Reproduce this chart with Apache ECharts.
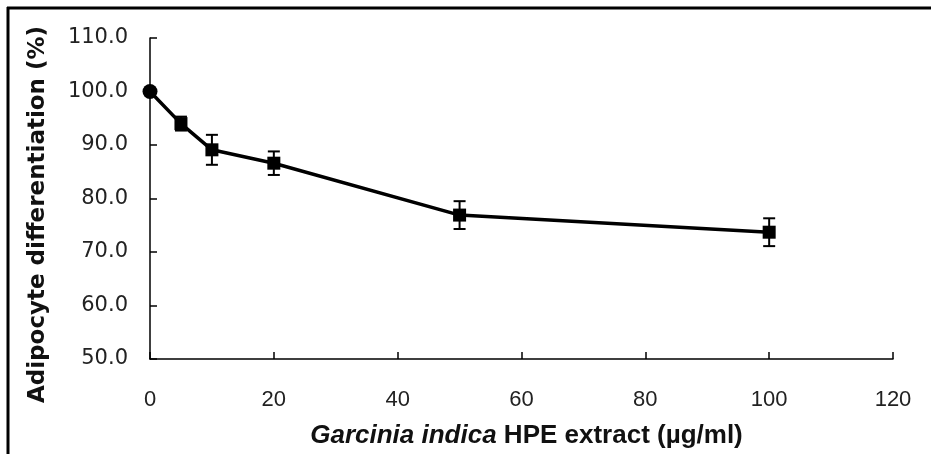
<!DOCTYPE html>
<html>
<head>
<meta charset="utf-8">
<script src="https://cdn.jsdelivr.net/npm/echarts@6/dist/echarts.min.js"></script>
<style>
  html, body { margin: 0; padding: 0; background: #fff; }
  #chart { width: 931px; height: 454px; }
</style>
</head>
<body>
<div id="chart"></div>
<script>
  // concentrations (ug/ml)
  const doses = [0, 5, 10, 20, 50, 100]
  // adipocyte differentiation (%)
  const means = [100.0, 94.0, 89.1, 86.6, 76.9, 73.7]
  // standard error
  const errors = [0, 1.3, 2.8, 2.2, 2.6, 2.6]
  const symbols = ['circle', 'rect', 'rect', 'rect', 'rect', 'rect']

  const lineData = doses.map((d, i) => ({
    value: [d, means[i]],
    symbol: symbols[i],
    symbolSize: symbols[i] === 'circle' ? 15 : 13
  }))
  const errData = doses.map((d, i) => [d, means[i] - errors[i], means[i] + errors[i]])

  const chart = echarts.init(document.getElementById('chart'))
  chart.setOption({
    animation: false,
    grid: {left: 150, right: 38, top: 38, bottom: 93},
    graphic: [
      {type: 'line', shape: {x1: 7, y1: 8, x2: 931, y2: 8}, style: {stroke: '#000', lineWidth: 3}},
      {type: 'line', shape: {x1: 8, y1: 7, x2: 8, y2: 454}, style: {stroke: '#000', lineWidth: 3}}
    ],
    xAxis: {
      type: 'value',
      min: 0,
      max: 120,
      interval: 20,
      name: '{it|Garcinia indica} HPE extract (µg/ml)',
      nameLocation: 'middle',
      nameGap: 64,
      nameTextStyle: {
        fontFamily: 'Liberation Sans',
        fontSize: 26,
        fontWeight: 'bold',
        color: '#111',
        padding: [0, 0, 0, 10],
        rich: {
          it: {fontFamily: 'Liberation Sans', fontStyle: 'italic', fontWeight: 'bold', fontSize: 26, color: '#111'}
        }
      },
      splitLine: {show: false},
      axisLine: {lineStyle: {color: '#000', width: 1.5}},
      axisTick: {inside: true, length: 7, lineStyle: {color: '#000', width: 1.5}},
      axisLabel: {
        margin: 30,
        fontFamily: 'Liberation Sans',
        fontSize: 22,
        color: '#222'
      }
    },
    yAxis: {
      type: 'value',
      min: 50,
      max: 110,
      interval: 10,
      name: 'Adipocyte differentiation (%)',
      nameLocation: 'middle',
      nameGap: 100,
      nameTextStyle: {
        fontFamily: 'DejaVu Sans',
        fontSize: 23,
        fontWeight: 'bold',
        color: '#111',
        padding: [0, 32, 0, 0]
      },
      splitLine: {show: false},
      axisLine: {show: true, lineStyle: {color: '#000', width: 1.5}},
      axisTick: {show: true, inside: true, length: 7, lineStyle: {color: '#000', width: 1.5}},
      axisLabel: {
        margin: 22,
        fontFamily: 'DejaVu Sans',
        fontSize: 21,
        color: '#222',
        formatter: v => v.toFixed(1)
      }
    },
    series: [
      {
        type: 'custom',
        z: 1,
        data: errData,
        renderItem(params, api) {
          const x = api.value(0)
          const lo = api.coord([x, api.value(1)])
          const hi = api.coord([x, api.value(2)])
          const w = 6
          const st = {stroke: '#000', lineWidth: 2}
          return {
            type: 'group',
            children: [
              {type: 'line', shape: {x1: lo[0], y1: lo[1], x2: hi[0], y2: hi[1]}, style: st},
              {type: 'line', shape: {x1: lo[0] - w, y1: lo[1], x2: lo[0] + w, y2: lo[1]}, style: st},
              {type: 'line', shape: {x1: hi[0] - w, y1: hi[1], x2: hi[0] + w, y2: hi[1]}, style: st}
            ]
          }
        }
      },
      {
        type: 'line',
        z: 2,
        data: lineData,
        lineStyle: {color: '#000', width: 3.5},
        itemStyle: {color: '#000'}
      }
    ]
  })
</script>
</body>
</html>
